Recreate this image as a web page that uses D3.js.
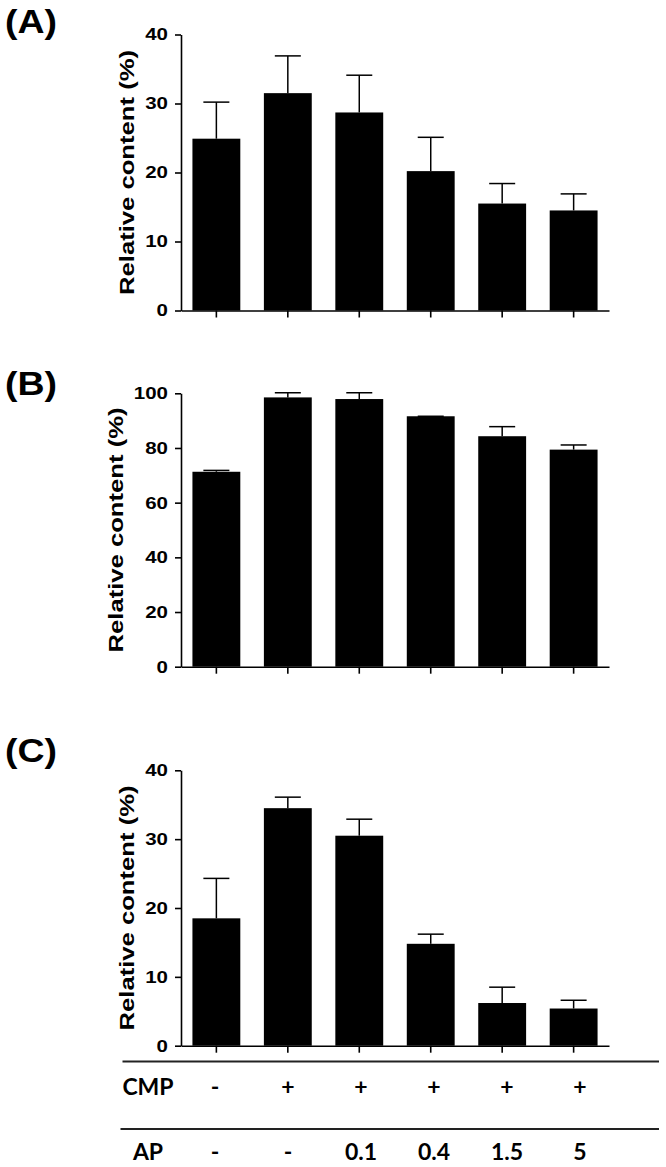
<!DOCTYPE html>
<html>
<head>
<meta charset="utf-8">
<script src="https://cdn.jsdelivr.net/npm/d3@7"></script>
<style>
  body { margin: 0; background: #fff; }
</style>
</head>
<body>
<div id="container"></div>
<script>
// groups, left to right
const groups = ["Control", "CMP", "CMP+AP0.1", "CMP+AP0.4", "CMP+AP1.5", "CMP+AP5"];

// panel A
const meanA = [24.9, 31.5, 28.7, 20.2, 15.5, 14.5];
const errA  = [5.3, 5.4, 5.4, 4.9, 2.9, 2.4];
const ticksA = [0, 10, 20, 30, 40];

// panel B
const meanB = [71.3, 98.5, 97.9, 91.6, 84.3, 79.4];
const errB  = [0.5, 1.7, 2.3, 0, 3.5, 1.7];
const ticksB = [0, 20, 40, 60, 80, 100];

// panel C
const meanC = [18.5, 34.5, 30.5, 14.8, 6.2, 5.4];
const errC  = [5.8, 1.6, 2.4, 1.4, 2.3, 1.2];
const ticksC = [0, 10, 20, 30, 40];

// treatment table under C
const cmpRow = ["-", "+", "+", "+", "+", "+"];
const apRow  = ["-", "-", "0.1", "0.4", "1.5", "5"];

const yLabel = "Relative content (%)";

const width = 666, height = 1167;
const svg = d3.select("#container").append("svg")
    .attr("width", width)
    .attr("height", height);

const xLeft = 181, xRight = 609;
const xScale = d3.scaleBand().domain(groups).range([xLeft, xRight])
    .paddingInner(0.33).paddingOuter(0.16);

const panels = [
  {letter: "(A)", means: meanA, errs: errA, ticks: ticksA, max: 40,  top: 34.5,  bottom: 310.5,  letterY: 33,  labelX: 134},
  {letter: "(B)", means: meanB, errs: errB, ticks: ticksB, max: 100, top: 393.3, bottom: 666.7,  letterY: 395, labelX: 123},
  {letter: "(C)", means: meanC, errs: errC, ticks: ticksC, max: 40,  top: 770.3, bottom: 1045.7, letterY: 762, labelX: 134}
];

const axisFont = "'Liberation Sans', Arial, sans-serif";

panels.forEach(p => {
  const g = svg.append("g");
  const yScale = d3.scaleLinear().domain([0, p.max]).range([p.bottom, p.top]);

  // bars
  g.selectAll("rect.bar")
    .data(groups)
    .join("rect")
    .attr("class", "bar")
    .attr("x", d => xScale(d))
    .attr("width", xScale.bandwidth())
    .attr("y", (d, i) => yScale(p.means[i]))
    .attr("height", (d, i) => p.bottom - yScale(p.means[i]))
    .attr("fill", "#000");

  // error bars (upper only)
  const cx = d => xScale(d) + xScale.bandwidth() / 2;
  g.selectAll("line.stem")
    .data(groups)
    .join("line")
    .attr("x1", cx).attr("x2", cx)
    .attr("y1", (d, i) => yScale(p.means[i]))
    .attr("y2", (d, i) => yScale(p.means[i] + p.errs[i]))
    .attr("stroke", "#000").attr("stroke-width", 1.5);
  g.selectAll("line.cap")
    .data(groups)
    .join("line")
    .attr("x1", d => cx(d) - 13).attr("x2", d => cx(d) + 13)
    .attr("y1", (d, i) => yScale(p.means[i] + p.errs[i]))
    .attr("y2", (d, i) => yScale(p.means[i] + p.errs[i]))
    .attr("stroke", "#000").attr("stroke-width", 1.5);

  // y axis
  const yAxis = g.append("g")
    .attr("transform", "translate(" + xLeft + ",0)")
    .call(d3.axisLeft(yScale).tickValues(p.ticks).tickSize(6).tickSizeOuter(0).tickPadding(7));
  yAxis.select(".domain").attr("stroke-width", 1.6);
  yAxis.selectAll(".tick line").attr("stroke-width", 1.6);
  yAxis.selectAll(".tick text")
    .attr("fill", "#000")
    .style("font-family", axisFont)
    .style("font-weight", "bold")
    .style("font-size", "17px")
    .attr("textLength", d => String(d).length * 11.4)
    .attr("lengthAdjust", "spacingAndGlyphs");

  // x axis, ticks only
  const xAxis = g.append("g")
    .attr("transform", "translate(0," + p.bottom + ")")
    .call(d3.axisBottom(xScale).tickSize(7).tickSizeOuter(0).tickFormat(""));
  xAxis.select(".domain").attr("stroke-width", 1.6);
  xAxis.selectAll(".tick line").attr("stroke-width", 1.6);

  // y label
  g.append("text")
    .attr("transform", "translate(" + p.labelX + "," + ((p.top + p.bottom) / 2) + ") rotate(-90)")
    .attr("text-anchor", "middle")
    .style("font-family", axisFont)
    .style("font-weight", "bold")
    .style("font-size", "21px")
    .attr("textLength", 245)
    .attr("lengthAdjust", "spacingAndGlyphs")
    .text(yLabel);

  // panel letter
  g.append("text")
    .attr("x", 5)
    .attr("y", p.letterY)
    .style("font-family", axisFont)
    .style("font-weight", "bold")
    .style("font-size", "34px")
    .attr("textLength", 52)
    .attr("lengthAdjust", "spacingAndGlyphs")
    .text(p.letter);
});

// table under panel C
const tableX = d3.scalePoint().domain(groups).range([215, 580]);
const tableFont = "Lato, 'Open Sans', sans-serif";
const table = svg.append("g");

[1061.5, 1129].forEach((y, i) => {
  table.append("line")
    .attr("x1", i === 0 ? 122.5 : 120.5).attr("x2", 659)
    .attr("y1", y).attr("y2", y)
    .attr("stroke", "#222").attr("stroke-width", 1.8);
});

const rows = [
  {name: "CMP", values: cmpRow, y: 1095},
  {name: "AP",  values: apRow,  y: 1160}
];
rows.forEach(r => {
  table.append("text")
    .attr("x", 148).attr("y", r.y)
    .attr("text-anchor", "middle")
    .style("font-family", tableFont)
    .style("font-weight", "bold")
    .style("font-size", "23px")
    .text(r.name);
  table.selectAll(null)
    .data(groups)
    .join("text")
    .attr("x", d => tableX(d))
    .attr("y", r.y)
    .attr("text-anchor", "middle")
    .style("font-family", tableFont)
    .style("font-weight", "bold")
    .style("font-size", "23px")
    .text((d, i) => r.values[i]);
});
</script>
</body>
</html>
